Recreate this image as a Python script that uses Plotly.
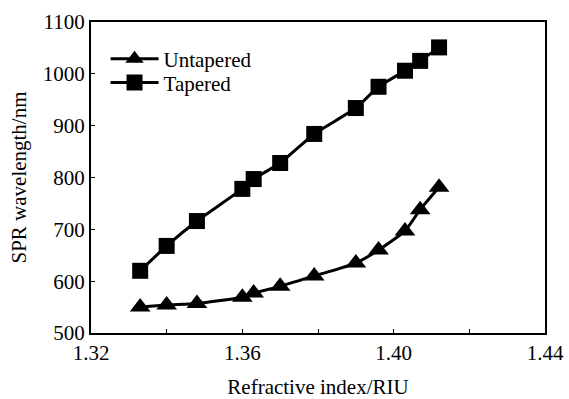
import plotly.graph_objects as go

ri = [1.333, 1.340, 1.348, 1.360, 1.363, 1.370, 1.379, 1.390, 1.396, 1.403, 1.407, 1.412]
untapered = [550, 554, 557, 569, 577, 590, 610, 635, 660, 697, 738, 781]
tapered = [620, 668, 716, 778, 797, 828, 884, 934, 975, 1006, 1025, 1051]

font_family = "Liberation Serif, Times New Roman, serif"

fig = go.Figure()
fig.add_trace(go.Scatter(
    x=ri, y=untapered, name="Untapered", mode="lines+markers",
    line=dict(color="black", width=3, shape="spline", smoothing=0.5),
    marker=dict(symbol="triangle-up", size=18, color="black"),
    legend="legend",
))
fig.add_trace(go.Scatter(
    x=ri, y=tapered, name="Tapered", mode="lines+markers",
    line=dict(color="black", width=3, shape="spline", smoothing=0.5),
    marker=dict(symbol="square", size=16, color="black"),
    legend="legend2",
))

leg_common = dict(xanchor="left", yanchor="middle", bgcolor="rgba(0,0,0,0)",
                  font=dict(size=21), itemwidth=48)

fig.update_layout(
    width=569, height=399,
    margin=dict(l=91, r=24, t=22, b=66),
    paper_bgcolor="white", plot_bgcolor="white",
    font=dict(family=font_family, size=21, color="black"),
    showlegend=True,
    legend=dict(x=0.032, y=0.881, **leg_common),
    legend2=dict(x=0.032, y=0.804, **leg_common),
)
fig.update_xaxes(
    range=[1.32, 1.44], tickvals=[1.32, 1.36, 1.40, 1.44],
    ticktext=["1.32", "1.36", "1.40", "1.44"],
    showline=True, linecolor="black", linewidth=2, mirror=True,
    ticks="inside", ticklen=4, tickwidth=1, tickcolor="black",
    minor=dict(tickvals=[1.34, 1.38, 1.42], ticks="inside", ticklen=4, tickcolor="black"),
    showgrid=False, zeroline=False, automargin=False,
    title=dict(text="Refractive index/RIU", font=dict(size=21), standoff=16),
)
fig.update_yaxes(
    range=[500, 1100], dtick=100,
    showline=True, linecolor="black", linewidth=2, mirror=True,
    ticks="inside", ticklen=4, tickwidth=1, tickcolor="black",
    showgrid=False, zeroline=False, automargin=False,
    title=dict(text="SPR wavelength/nm", font=dict(size=21), standoff=10),
)

fig.write_html("out.html")
